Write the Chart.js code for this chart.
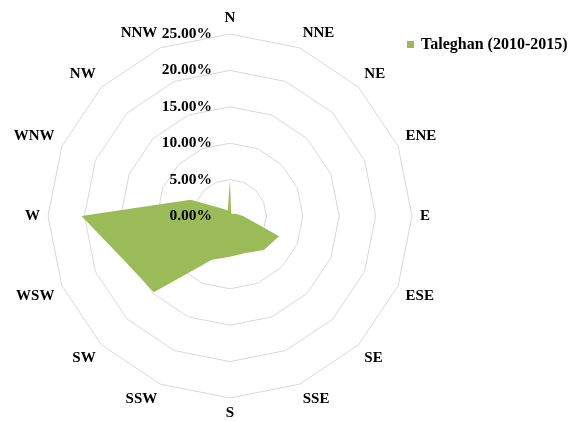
<!DOCTYPE html>
<html lang="en">
<head>
    <meta charset="UTF-8">
    <title>Taleghan wind rose</title>
    <style>
        html, body {
            margin: 0;
            padding: 0;
            background: #ffffff;
        }
        .chart-container {
            position: relative;
            width: 570px;
            height: 421px;
        }
    </style>
</head>
<body>
    <div class="chart-container">
        <canvas id="rose-chart"></canvas>
    </div>

    <script src="https://cdn.jsdelivr.net/npm/chart.js"></script>
    <script>
        // Wind directions, clockwise from north
        const directions = ['N', 'NNE', 'NE', 'ENE', 'E', 'ESE', 'SE', 'SSE',
                            'S', 'SSW', 'SW', 'WSW', 'W', 'WNW', 'NW', 'NNW'];
        // Frequency (%) per direction
        const taleghan = [4.9, 0.4, 0.4, 0.8, 1.8, 7.3, 6.6, 5.5,
                          5.6, 6.5, 14.8, 15.8, 20.4, 5.85, 1.4, 0.8];
        const seriesName = 'Taleghan (2010-2015)';
        const axisMax = 25;
        const axisStep = 5;

        const green = '#9bbb59';
        const serif = "'Liberation Serif', 'Times New Roman', serif";

        // tick labels sit left of the north axis, Excel style
        const tickLabels = {
            id: 'tickLabels',
            afterDatasetsDraw(chart) {
                const scale = chart.scales.r;
                const ctx = chart.ctx;
                ctx.save();
                ctx.font = 'bold 15.5px ' + serif;
                ctx.fillStyle = '#000000';
                ctx.textAlign = 'right';
                ctx.textBaseline = 'middle';
                scale.ticks.forEach(t => {
                    const y = scale.yCenter - scale.getDistanceFromCenterForValue(t.value);
                    ctx.fillText(t.value.toFixed(2) + '%', scale.xCenter - 18, y);
                });
                ctx.restore();
            }
        };

        const sideLegend = {
            id: 'sideLegend',
            afterDraw(chart) {
                const ctx = chart.ctx;
                ctx.save();
                ctx.fillStyle = green;
                ctx.fillRect(407, 41, 7, 7);
                ctx.font = 'bold 16px ' + serif;
                ctx.fillStyle = '#000000';
                ctx.textAlign = 'left';
                ctx.textBaseline = 'middle';
                ctx.fillText(seriesName, 421, 45);
                ctx.restore();
            }
        };

        const roseCtx = document.getElementById('rose-chart').getContext('2d');
        const roseChart = new Chart(roseCtx, {
            type: 'radar',
            data: {
                labels: directions,
                datasets: [{
                    label: seriesName,
                    data: taleghan,
                    backgroundColor: green,
                    borderColor: green,
                    borderWidth: 0,
                    pointRadius: 0,
                    pointHoverRadius: 0,
                    fill: true
                }]
            },
            options: {
                responsive: true,
                maintainAspectRatio: false,
                animation: false,
                layout: {
                    padding: { left: 0, right: 120, top: 11, bottom: 0 }
                },
                scales: {
                    r: {
                        min: 0,
                        max: axisMax,
                        ticks: { stepSize: axisStep, display: false },
                        angleLines: { display: false },
                        grid: { color: '#d9d9d9', lineWidth: 1 },
                        pointLabels: {
                            color: '#000000',
                            padding: 8,
                            font: { family: serif, size: 15, weight: 'bold', lineHeight: 1.0 }
                        }
                    }
                },
                plugins: {
                    legend: { display: false },
                    tooltip: { enabled: false }
                }
            },
            plugins: [tickLabels, sideLegend]
        });
    </script>
</body>
</html>
